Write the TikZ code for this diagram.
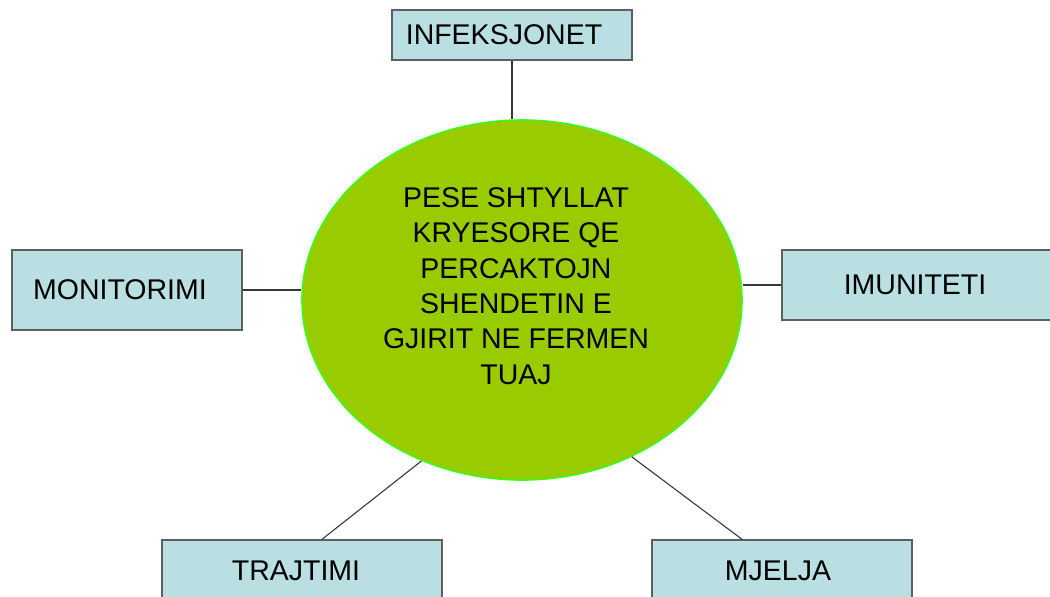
\documentclass[tikz,border=0pt]{standalone}
\usepackage{fontspec}
\setmainfont{Liberation Sans}
\usetikzlibrary{shapes.geometric}

\definecolor{boxblue}{RGB}{185,223,227}
\definecolor{boxline}{RGB}{95,95,95}
\definecolor{pillargreen}{RGB}{153,204,0}
\definecolor{pillarrim}{RGB}{60,250,30}
\definecolor{edgegray}{RGB}{55,55,55}

\tikzset{
  pillarbox/.style={rectangle, draw=boxline, fill=boxblue, line width=1.4pt, inner sep=0pt,
    font=\fontsize{28.5}{34}\selectfont},
  edge/.style={draw=edgegray, line width=1.1pt}
}

\begin{document}
\begin{tikzpicture}[x=1pt, y=-1pt]
			\clip (0,0) rectangle (1050,597);
			
			% Define vertices
			\node[ellipse, draw=pillarrim, fill=pillargreen, line width=1.6pt, inner sep=0pt,
			  minimum width=440pt, minimum height=360pt] (pillars) at (522,300) {};
			\node[align=center, inner sep=0pt, font=\fontsize{28.5}{35.3}\selectfont] (pillarstext) at (516,286)
			  {PESE SHTYLLAT\\KRYESORE QE\\PERCAKTOJN\\SHENDETIN E\\GJIRIT NE FERMEN\\TUAJ};
			\node[pillarbox, minimum width=240pt, minimum height=50pt] (infek) at (512,35) {INFEKSJONET\kern16pt};
			\node[pillarbox, minimum width=230pt, minimum height=80pt] (monit) at (127,290) {MONITORIMI\kern14pt};
			\node[pillarbox, minimum width=270pt, minimum height=70pt] (imun) at (917,285) {IMUNITETI\kern4pt};
			\node[pillarbox, minimum width=280pt, minimum height=62pt] (trajt) at (302,571) {TRAJTIMI\kern12pt};
			\node[pillarbox, minimum width=260pt, minimum height=62pt] (mjel) at (782,571) {MJELJA\kern8pt};
			
			% Draw edges
			\draw[edge] (infek.south) -- (infek.south |- pillars.north);
			\draw[edge] (monit.east) -- (monit.east -| pillars.west);
			\draw[edge] (imun.west) -- (imun.west -| pillars.east);
			\draw[edge] ([xshift=20pt]trajt.north) -- (pillars.238);
			\draw[edge] ([xshift=-40pt]mjel.north) -- (pillars.305);
		\end{tikzpicture}
\end{document}
